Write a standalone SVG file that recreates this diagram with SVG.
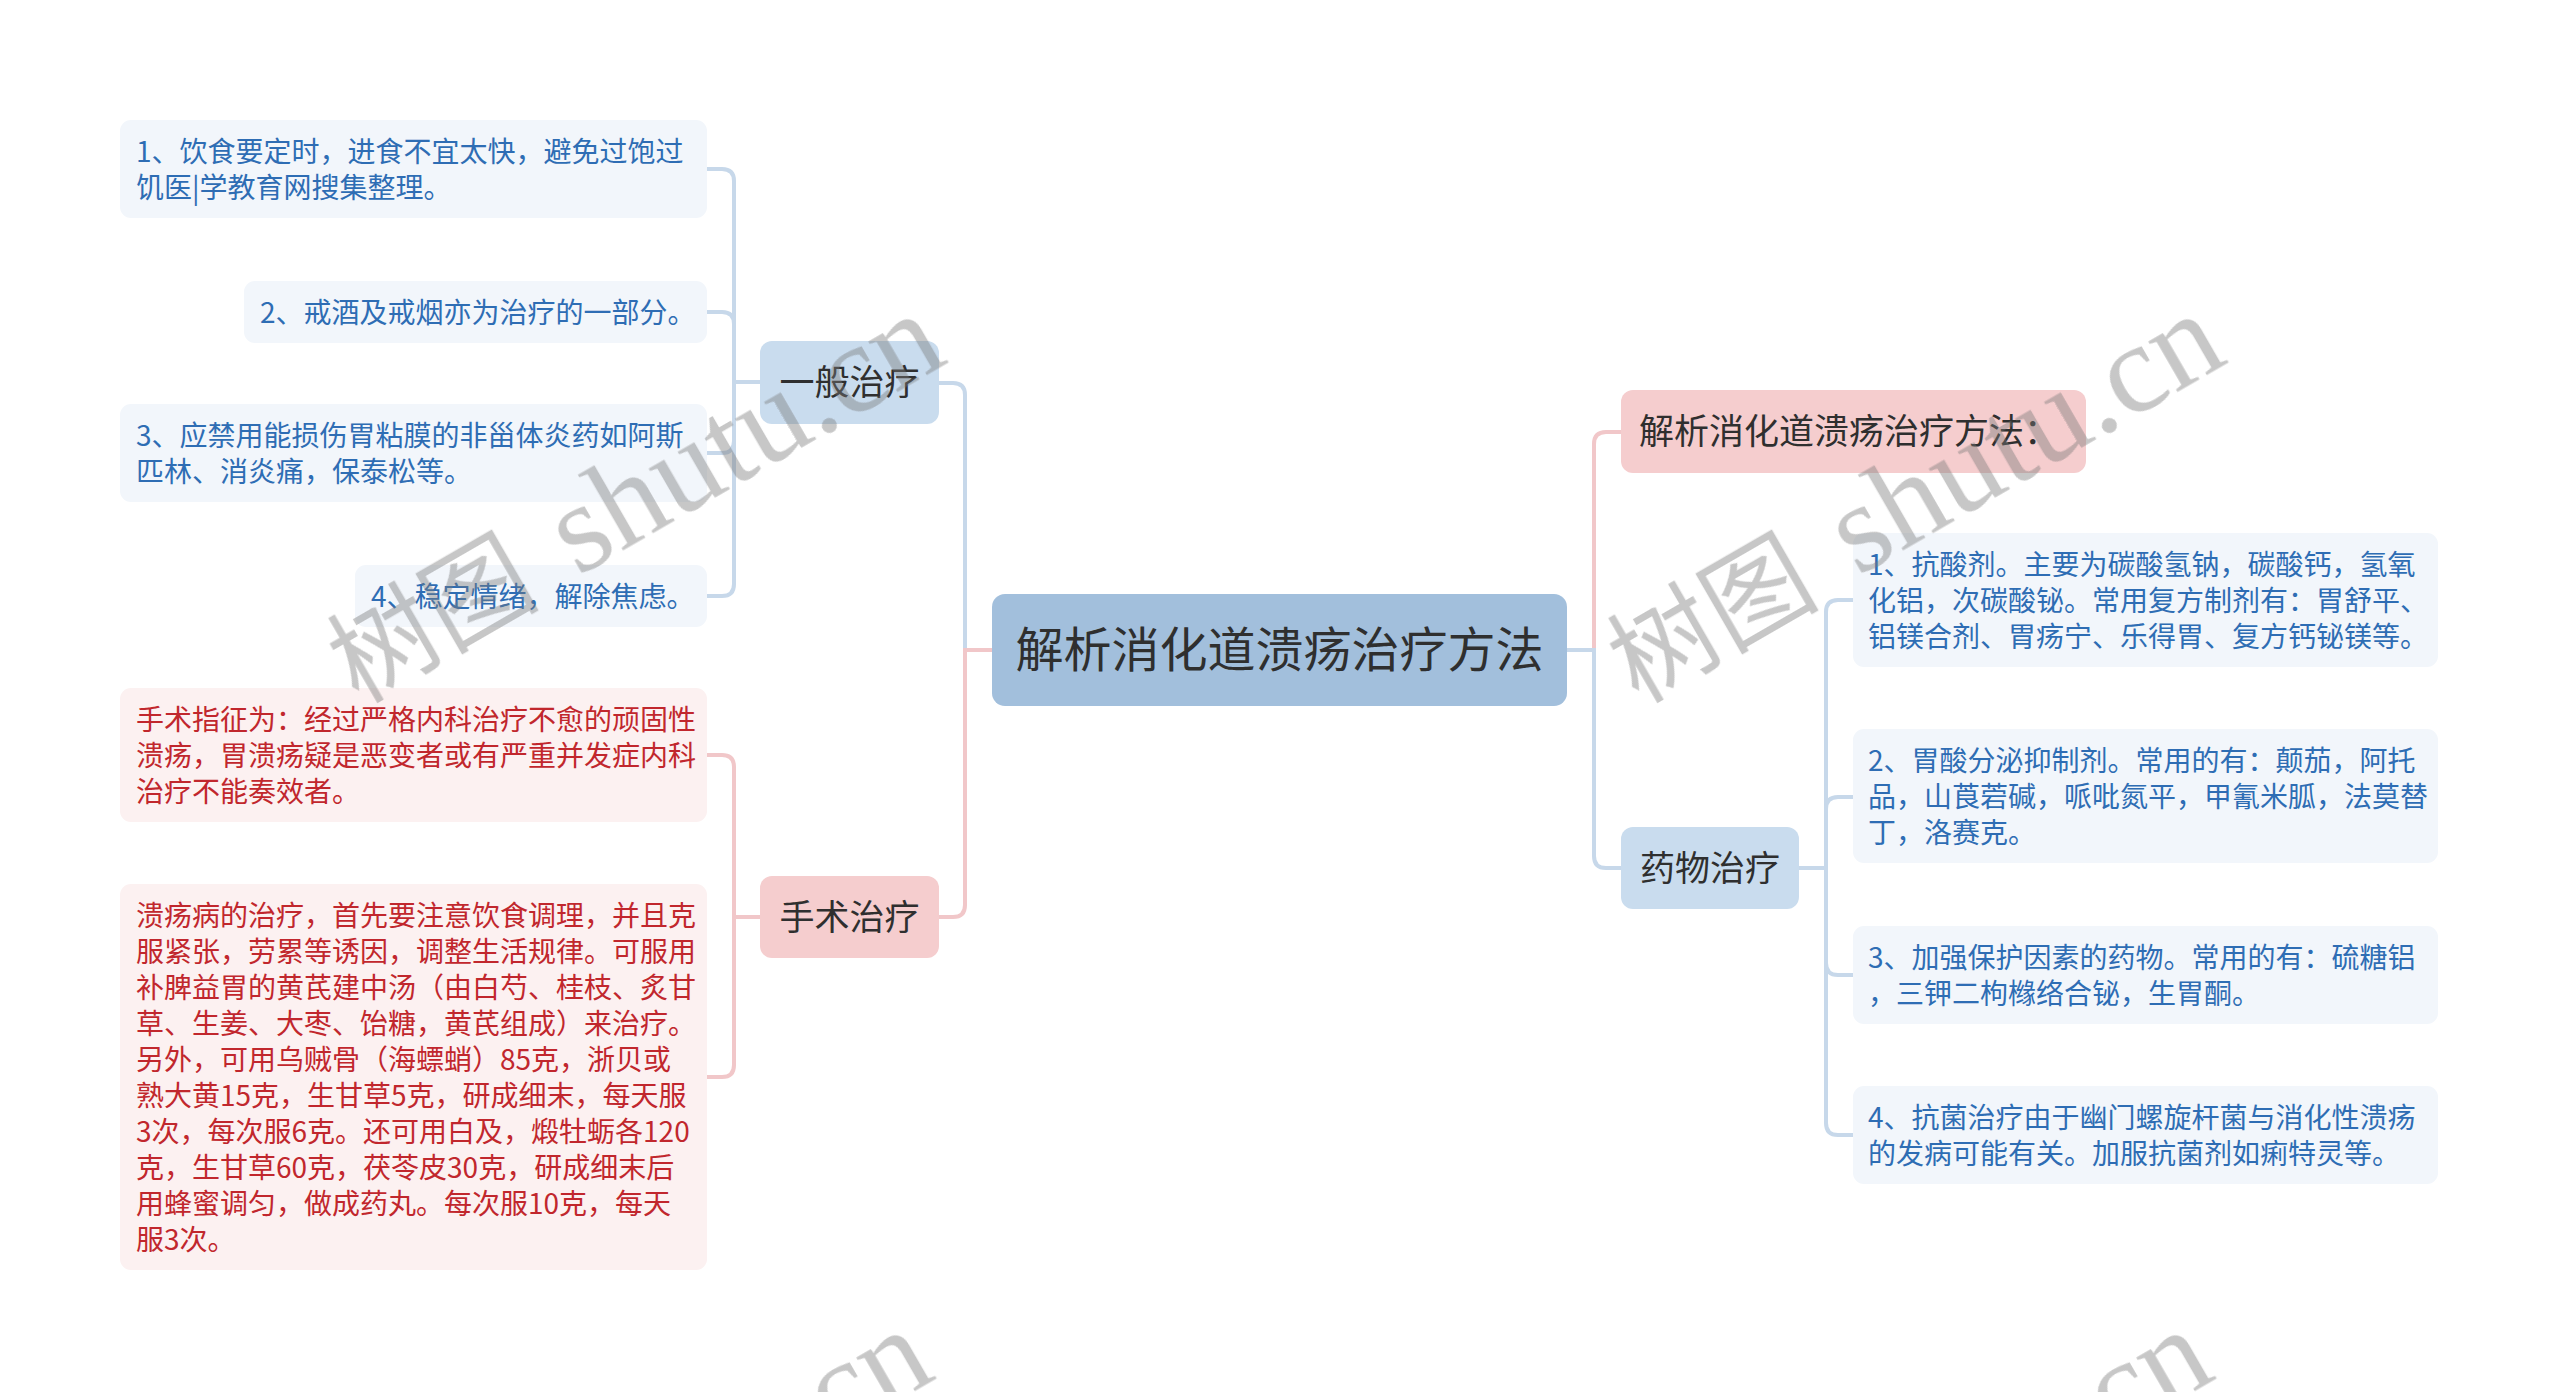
<svg xmlns="http://www.w3.org/2000/svg" width="2560" height="1392" viewBox="0 0 2560 1392">
<style>
text{font-family:"Noto Sans CJK SC","Noto Sans",sans-serif}
.root{fill:#a2bfdc}
.tb1{fill:#c9dcee}
.tp1{fill:#f5cdce}
.cb{fill:#f2f6fb}
.cp{fill:#fcf1f1}
.tt{fill:#2f2f2f;font-size:35px}
.rt{fill:#2f2f2f;font-size:48px}
.xb{fill:#2e6db4;font-size:28px}
.xr{fill:#c1272d;font-size:28px}
.lb{fill:none;stroke:#c7d8ea;stroke-width:4}
.lp{fill:none;stroke:#f1c7c9;stroke-width:4}
.wm{fill:#7a7a7a;opacity:0.42}
.wl{font-family:"Liberation Serif",serif}
</style>
<rect width="2560" height="1392" fill="#ffffff"/>
<g id="connectors">
<path class="lb" d="M992 650 H965 V395 Q965 383 953 383 H939"/>
<path class="lp" d="M992 650 H965 V905 Q965 917 953 917 H939"/>
<path class="lp" d="M1567 650 H1594 V444 Q1594 432 1606 432 H1621"/>
<path class="lb" d="M1567 650 H1594 V856 Q1594 868 1606 868 H1621"/>
<path class="lb" d="M760 382 H734 V181 Q734 169 722 169 H707"/>
<path class="lb" d="M760 382 H734 V324 Q734 312 722 312 H707"/>
<path class="lb" d="M760 382 H734 V441 Q734 453 722 453 H707"/>
<path class="lb" d="M760 382 H734 V584 Q734 596 722 596 H707"/>
<path class="lp" d="M760 917 H734 V767 Q734 755 722 755 H707"/>
<path class="lp" d="M760 917 H734 V1065 Q734 1077 722 1077 H707"/>
<path class="lb" d="M1799 868 H1826 V612 Q1826 600 1838 600 H1853"/>
<path class="lb" d="M1799 868 H1826 V809 Q1826 797 1838 797 H1853"/>
<path class="lb" d="M1799 868 H1826 V963 Q1826 975 1838 975 H1853"/>
<path class="lb" d="M1799 868 H1826 V1123 Q1826 1135 1838 1135 H1853"/>
</g>
<g id="root">
<rect class="root" x="992" y="594" width="575" height="112" rx="13"/>
<text class="rt" x="1279.5" y="667" text-anchor="middle">解析消化道溃疡治疗方法</text>
</g>
<g id="n-general">
<rect class="tb1" x="760" y="341" width="179" height="83" rx="12"/>
<text class="tt" x="849.5" y="395" text-anchor="middle">一般治疗</text>
</g>
<g id="n-g1">
<rect class="cb" x="120" y="120" width="587" height="98" rx="11"/>
<text class="xb" x="136" y="162">1、饮食要定时，进食不宜太快，避免过饱过</text>
<text class="xb" x="136" y="198">饥医|学教育网搜集整理。</text>
</g>
<g id="n-g2">
<rect class="cb" x="244" y="281" width="463" height="62" rx="11"/>
<text class="xb" x="260" y="323">2、戒酒及戒烟亦为治疗的一部分。</text>
</g>
<g id="n-g3">
<rect class="cb" x="120" y="404" width="587" height="98" rx="11"/>
<text class="xb" x="136" y="446">3、应禁用能损伤胃粘膜的非甾体炎药如阿斯</text>
<text class="xb" x="136" y="482">匹林、消炎痛，保泰松等。</text>
</g>
<g id="n-g4">
<rect class="cb" x="355" y="565" width="352" height="62" rx="11"/>
<text class="xb" x="371" y="607">4、稳定情绪，解除焦虑。</text>
</g>
<g id="n-surgery">
<rect class="tp1" x="760" y="876" width="179" height="82" rx="12"/>
<text class="tt" x="849.5" y="930" text-anchor="middle">手术治疗</text>
</g>
<g id="n-s1">
<rect class="cp" x="120" y="688" width="587" height="134" rx="11"/>
<text class="xr" x="136" y="730">手术指征为：经过严格内科治疗不愈的顽固性</text>
<text class="xr" x="136" y="766">溃疡，胃溃疡疑是恶变者或有严重并发症内科</text>
<text class="xr" x="136" y="802">治疗不能奏效者。</text>
</g>
<g id="n-s2">
<rect class="cp" x="120" y="884" width="587" height="386" rx="11"/>
<text class="xr" x="136" y="926">溃疡病的治疗，首先要注意饮食调理，并且克</text>
<text class="xr" x="136" y="962">服紧张，劳累等诱因，调整生活规律。可服用</text>
<text class="xr" x="136" y="998">补脾益胃的黄芪建中汤（由白芍、桂枝、炙甘</text>
<text class="xr" x="136" y="1034">草、生姜、大枣、饴糖，黄芪组成）来治疗。</text>
<text class="xr" x="136" y="1070">另外，可用乌贼骨（海螵蛸）85克，浙贝或</text>
<text class="xr" x="136" y="1106">熟大黄15克，生甘草5克，研成细末，每天服</text>
<text class="xr" x="136" y="1142">3次，每次服6克。还可用白及，煅牡蛎各120</text>
<text class="xr" x="136" y="1178">克，生甘草60克，茯苓皮30克，研成细末后</text>
<text class="xr" x="136" y="1214">用蜂蜜调匀，做成药丸。每次服10克，每天</text>
<text class="xr" x="136" y="1250">服3次。</text>
</g>
<g id="n-intro">
<rect class="tp1" x="1621" y="390" width="465" height="83" rx="12"/>
<text class="tt" x="1639" y="444">解析消化道溃疡治疗方法：</text>
</g>
<g id="n-drug">
<rect class="tb1" x="1621" y="827" width="178" height="82" rx="12"/>
<text class="tt" x="1710" y="881" text-anchor="middle">药物治疗</text>
</g>
<g id="n-d1">
<rect class="cb" x="1853" y="533" width="585" height="134" rx="11"/>
<text class="xb" x="1868" y="575">1、抗酸剂。主要为碳酸氢钠，碳酸钙，氢氧</text>
<text class="xb" x="1868" y="611">化铝，次碳酸铋。常用复方制剂有：胃舒平、</text>
<text class="xb" x="1868" y="647">铝镁合剂、胃疡宁、乐得胃、复方钙铋镁等。</text>
</g>
<g id="n-d2">
<rect class="cb" x="1853" y="729" width="585" height="134" rx="11"/>
<text class="xb" x="1868" y="771">2、胃酸分泌抑制剂。常用的有：颠茄，阿托</text>
<text class="xb" x="1868" y="807">品，山莨菪碱，哌吡氮平，甲氰米胍，法莫替</text>
<text class="xb" x="1868" y="843">丁，洛赛克。</text>
</g>
<g id="n-d3">
<rect class="cb" x="1853" y="926" width="585" height="98" rx="11"/>
<text class="xb" x="1868" y="968">3、加强保护因素的药物。常用的有：硫糖铝</text>
<text class="xb" x="1868" y="1004">，三钾二枸橼络合铋，生胃酮。</text>
</g>
<g id="n-d4">
<rect class="cb" x="1853" y="1086" width="585" height="98" rx="11"/>
<text class="xb" x="1868" y="1128">4、抗菌治疗由于幽门螺旋杆菌与消化性溃疡</text>
<text class="xb" x="1868" y="1164">的发病可能有关。加服抗菌剂如痢特灵等。</text>
</g>
<g id="watermarks" class="wm">
<text transform="translate(358,704) rotate(-30)"><tspan font-size="106">树图</tspan><tspan class="wl" x="254" font-size="128">shutu.cn</tspan></text>
<text transform="translate(1638,704) rotate(-30)"><tspan font-size="106">树图</tspan><tspan class="wl" x="254" font-size="128">shutu.cn</tspan></text>
<text transform="translate(346,1720) rotate(-30)"><tspan font-size="106">树图</tspan><tspan class="wl" x="254" font-size="128">shutu.cn</tspan></text>
<text transform="translate(1626,1720) rotate(-30)"><tspan font-size="106">树图</tspan><tspan class="wl" x="254" font-size="128">shutu.cn</tspan></text>
</g>
</svg>
